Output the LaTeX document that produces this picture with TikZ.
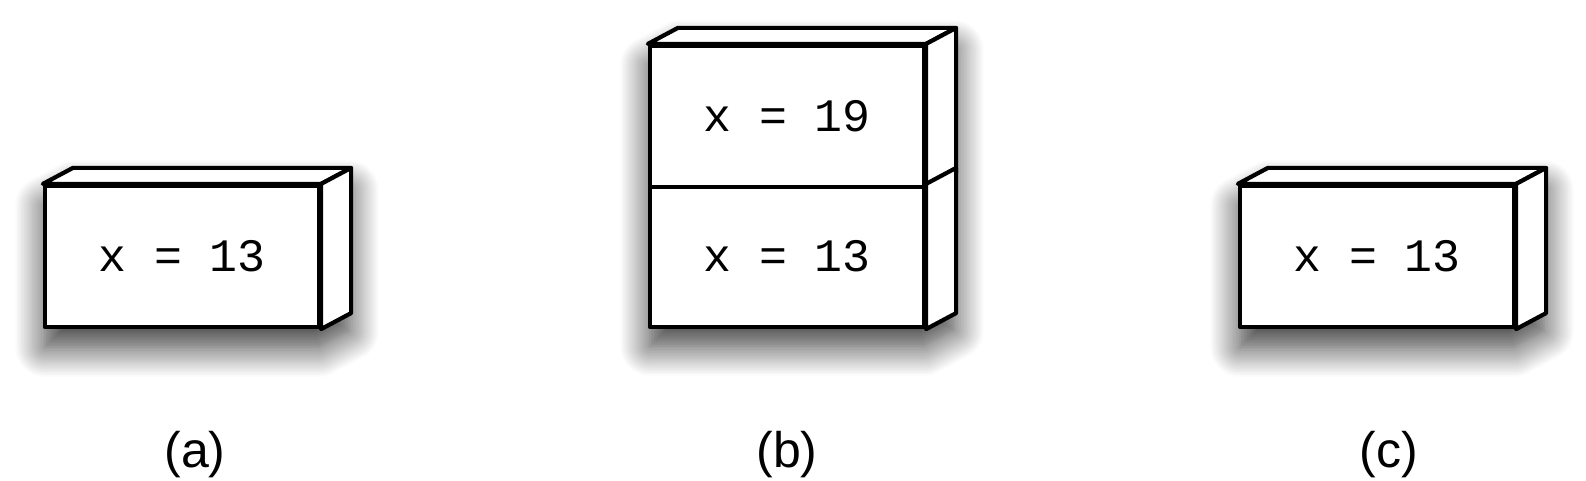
\documentclass[tikz,border=0pt]{standalone}
\usepackage{fontspec}
\setmainfont{Liberation Sans}
\newfontfamily\codefont{Liberation Mono}
\usetikzlibrary{shadows.blur,calc}
\tikzset{
  frontface/.style={draw, line width=4.2pt, fill=white, minimum width=274pt, minimum height=141pt,
    inner sep=0pt, font=\codefont\fontsize{46.5}{54}\selectfont, line join=round},
  shadowed/.style={blur shadow={shadow xshift=0pt, shadow yshift=-20pt, shadow blur radius=30pt, shadow opacity=80, shadow blur steps=20}},
  sideface/.style={draw, line width=4.2pt, fill=white, line join=round},
  caption/.style={font=\fontsize{50}{58}\selectfont}
}
\begin{document}
\begin{tikzpicture}[x=1pt,y=1pt]
\useasboundingbox (0,0) rectangle (1586,480);
% (a)
\coordinate (asw) at (45,153);
\coordinate (ane) at (319,294);
\path[shadowed] (asw) -- (asw |- ane) -- ++(30,16) -- ($(ane)+(30,16)$) -- ($(ane |- asw)+(30,16)$) -- (ane |- asw) -- cycle;
\node[frontface] (a) at (182,223.5) {x = 13};
\draw[sideface] (a.north west) -- ++(30,16) -- ($(a.north east)+(30,16)$) -- (a.north east) -- cycle;
\draw[sideface] (a.north east) -- ++(30,16) -- ($(a.south east)+(30,16)$) -- (a.south east) -- cycle;
\node[caption] (la) at (195,25) {(a)};
% (b)
\coordinate (bsw) at (650,154);
\coordinate (bne) at (924,434);
\path[shadowed] (bsw) -- (bsw |- bne) -- ++(30,16) -- ($(bne)+(30,16)$) -- ($(bne |- bsw)+(30,16)$) -- (bne |- bsw) -- cycle;
\node[frontface] (b1) at (787,223.5) {x = 13};
\node[frontface] (b2) at (787,363.5) {x = 19};
\draw[sideface] (b2.north west) -- ++(30,16) -- ($(b2.north east)+(30,16)$) -- (b2.north east) -- cycle;
\draw[sideface] (b2.north east) -- ++(30,16) -- ($(b2.south east)+(30,16)$) -- (b2.south east) -- cycle;
\draw[sideface] (b1.north east) -- ++(30,16) -- ($(b1.south east)+(30,16)$) -- (b1.south east) -- cycle;
\node[caption] (lb) at (787,25) {(b)};
% (c)
\coordinate (csw) at (1240,153);
\coordinate (cne) at (1514,294);
\path[shadowed] (csw) -- (csw |- cne) -- ++(30,16) -- ($(cne)+(30,16)$) -- ($(cne |- csw)+(30,16)$) -- (cne |- csw) -- cycle;
\node[frontface] (c) at (1377,223.5) {x = 13};
\draw[sideface] (c.north west) -- ++(30,16) -- ($(c.north east)+(30,16)$) -- (c.north east) -- cycle;
\draw[sideface] (c.north east) -- ++(30,16) -- ($(c.south east)+(30,16)$) -- (c.south east) -- cycle;
\node[caption] (lc) at (1389,25) {(c)};
\end{tikzpicture}
\end{document}
